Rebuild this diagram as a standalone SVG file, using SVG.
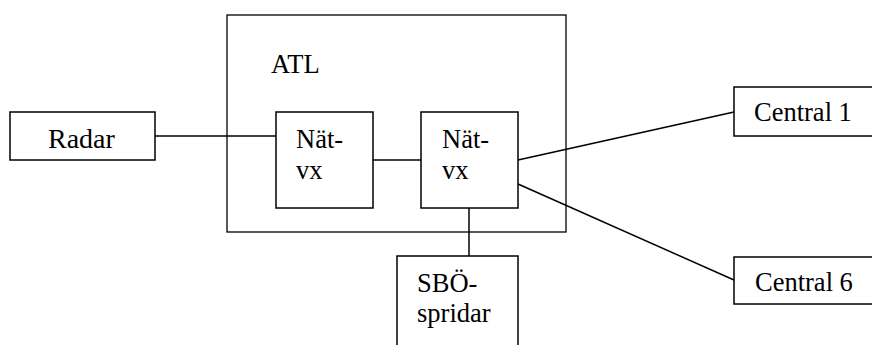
<svg xmlns="http://www.w3.org/2000/svg" width="872" height="345" viewBox="0 0 872 345">
<style>
.box{fill:#fff;stroke:#000;stroke-width:1.5}
.frame{fill:none;stroke:#000;stroke-width:1.3}
.ln{fill:none;stroke:#000;stroke-width:1.5}
text{font-family:"Liberation Serif","Times New Roman",serif;font-size:26.5px;fill:#000}
</style>
<rect width="872" height="345" fill="#fff"/>
<g id="atl">
<rect class="frame" x="227" y="15" width="339" height="217"/>
<text x="271" y="73">ATL</text>
</g>
<g id="connectors">
<line class="ln" x1="155" y1="136" x2="276" y2="136"/>
<line class="ln" x1="373" y1="160" x2="421" y2="160"/>
<line class="ln" x1="469" y1="208" x2="469" y2="256"/>
<line class="ln" x1="518" y1="160" x2="734" y2="112"/>
<line class="ln" x1="518" y1="184" x2="734" y2="280"/>
</g>
<g id="radar">
<rect class="box" x="10" y="112" width="145" height="48"/>
<text x="48" y="148" style="font-size:28px">Radar</text>
</g>
<g id="natvx1">
<rect class="box" x="276" y="112" width="97" height="96"/>
<text x="296" y="148">Nät-</text>
<text x="296" y="179">vx</text>
</g>
<g id="natvx2">
<rect class="box" x="421" y="112" width="97" height="96"/>
<text x="442" y="148">Nät-</text>
<text x="442" y="179">vx</text>
</g>
<g id="sbo">
<rect class="box" x="397" y="256" width="121" height="100"/>
<text x="417" y="292">SBÖ-</text>
<text x="417" y="322">spridar</text>
</g>
<g id="central1">
<rect class="box" x="734" y="87" width="150" height="49"/>
<text x="754" y="121">Central 1</text>
</g>
<g id="central6">
<rect class="box" x="734" y="257" width="150" height="47"/>
<text x="755" y="291">Central 6</text>
</g>
</svg>
